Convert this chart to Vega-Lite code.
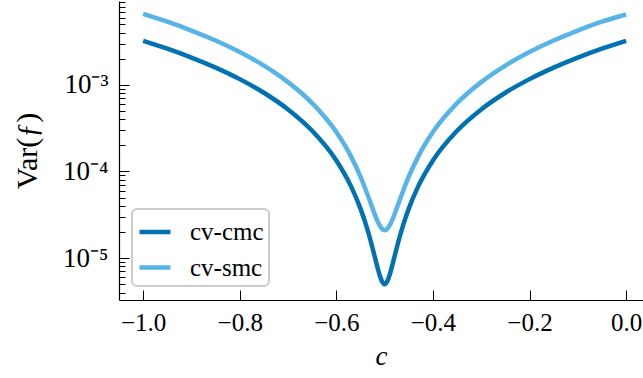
{
  "$schema": "https://vega.github.io/schema/vega-lite/v6.json",
  "width": 524,
  "height": 299,
  "autosize": {"type": "none"},
  "padding": {"left": 119, "top": 1, "right": 0, "bottom": 78},
  "background": "white",
  "config": {
    "view": {"stroke": null},
    "font": "Liberation Serif",
    "axis": {"labelFont": "Liberation Serif", "titleFont": "Liberation Serif", "labelColor": "#000", "titleColor": "#000", "tickColor": "#000", "domainColor": "#000", "grid": false, "titleFontWeight": "normal"},
    "legend": {"strokeColor": "#cccccc", "cornerRadius": 5, "strokeWidth": 2}
  },
  "datasets": {
    "curves": [
      {"c": -1.0, "v": 0.00323, "method": "cv-cmc"},
      {"c": -0.95, "v": 0.002617, "method": "cv-cmc"},
      {"c": -0.9, "v": 0.002069, "method": "cv-cmc"},
      {"c": -0.85, "v": 0.001585, "method": "cv-cmc"},
      {"c": -0.8, "v": 0.001166, "method": "cv-cmc"},
      {"c": -0.75, "v": 0.000811, "method": "cv-cmc"},
      {"c": -0.7, "v": 0.000521, "method": "cv-cmc"},
      {"c": -0.65, "v": 0.000295, "method": "cv-cmc"},
      {"c": -0.6, "v": 0.000134, "method": "cv-cmc"},
      {"c": -0.57, "v": 0.0000682, "method": "cv-cmc"},
      {"c": -0.55, "v": 0.00003725, "method": "cv-cmc"},
      {"c": -0.54, "v": 0.00002564, "method": "cv-cmc"},
      {"c": -0.53, "v": 0.00001661, "method": "cv-cmc"},
      {"c": -0.52, "v": 0.00001016, "method": "cv-cmc"},
      {"c": -0.515, "v": 0.0000079, "method": "cv-cmc"},
      {"c": -0.51, "v": 0.00000629, "method": "cv-cmc"},
      {"c": -0.505, "v": 0.00000532, "method": "cv-cmc"},
      {"c": -0.5, "v": 0.000005, "method": "cv-cmc"},
      {"c": -0.495, "v": 0.00000532, "method": "cv-cmc"},
      {"c": -0.49, "v": 0.00000629, "method": "cv-cmc"},
      {"c": -0.485, "v": 0.0000079, "method": "cv-cmc"},
      {"c": -0.48, "v": 0.00001016, "method": "cv-cmc"},
      {"c": -0.47, "v": 0.00001661, "method": "cv-cmc"},
      {"c": -0.46, "v": 0.00002564, "method": "cv-cmc"},
      {"c": -0.45, "v": 0.00003725, "method": "cv-cmc"},
      {"c": -0.43, "v": 0.0000682, "method": "cv-cmc"},
      {"c": -0.4, "v": 0.000134, "method": "cv-cmc"},
      {"c": -0.35, "v": 0.000295, "method": "cv-cmc"},
      {"c": -0.3, "v": 0.000521, "method": "cv-cmc"},
      {"c": -0.25, "v": 0.000811, "method": "cv-cmc"},
      {"c": -0.2, "v": 0.001166, "method": "cv-cmc"},
      {"c": -0.15, "v": 0.001585, "method": "cv-cmc"},
      {"c": -0.1, "v": 0.002069, "method": "cv-cmc"},
      {"c": -0.05, "v": 0.002617, "method": "cv-cmc"},
      {"c": 0.0, "v": 0.00323, "method": "cv-cmc"},
      {"c": -1.0, "v": 0.00662, "method": "cv-smc"},
      {"c": -0.95, "v": 0.005367, "method": "cv-smc"},
      {"c": -0.9, "v": 0.004245, "method": "cv-smc"},
      {"c": -0.85, "v": 0.003255, "method": "cv-smc"},
      {"c": -0.8, "v": 0.002397, "method": "cv-smc"},
      {"c": -0.75, "v": 0.001671, "method": "cv-smc"},
      {"c": -0.7, "v": 0.001077, "method": "cv-smc"},
      {"c": -0.65, "v": 0.000615, "method": "cv-smc"},
      {"c": -0.6, "v": 0.000285, "method": "cv-smc"},
      {"c": -0.57, "v": 0.0001504, "method": "cv-smc"},
      {"c": -0.55, "v": 0.000087, "method": "cv-smc"},
      {"c": -0.54, "v": 0.00006324, "method": "cv-smc"},
      {"c": -0.53, "v": 0.00004476, "method": "cv-smc"},
      {"c": -0.52, "v": 0.00003156, "method": "cv-smc"},
      {"c": -0.515, "v": 0.00002694, "method": "cv-smc"},
      {"c": -0.51, "v": 0.00002364, "method": "cv-smc"},
      {"c": -0.505, "v": 0.00002166, "method": "cv-smc"},
      {"c": -0.5, "v": 0.000021, "method": "cv-smc"},
      {"c": -0.495, "v": 0.00002166, "method": "cv-smc"},
      {"c": -0.49, "v": 0.00002364, "method": "cv-smc"},
      {"c": -0.485, "v": 0.00002694, "method": "cv-smc"},
      {"c": -0.48, "v": 0.00003156, "method": "cv-smc"},
      {"c": -0.47, "v": 0.00004476, "method": "cv-smc"},
      {"c": -0.46, "v": 0.00006324, "method": "cv-smc"},
      {"c": -0.45, "v": 0.000087, "method": "cv-smc"},
      {"c": -0.43, "v": 0.0001504, "method": "cv-smc"},
      {"c": -0.4, "v": 0.000285, "method": "cv-smc"},
      {"c": -0.35, "v": 0.000615, "method": "cv-smc"},
      {"c": -0.3, "v": 0.001077, "method": "cv-smc"},
      {"c": -0.25, "v": 0.001671, "method": "cv-smc"},
      {"c": -0.2, "v": 0.002397, "method": "cv-smc"},
      {"c": -0.15, "v": 0.003255, "method": "cv-smc"},
      {"c": -0.1, "v": 0.004245, "method": "cv-smc"},
      {"c": -0.05, "v": 0.005367, "method": "cv-smc"},
      {"c": 0.0, "v": 0.0065, "method": "cv-smc"}
    ]
  },
  "layer": [
    {
      "data": {"name": "curves"},
      "mark": {"type": "line", "strokeWidth": 4.5, "interpolate": "monotone", "clip": true},
      "encoding": {
        "x": {
          "field": "c", "type": "quantitative",
          "scale": {"domain": [-1.05, 0.035], "nice": false, "zero": false},
          "axis": {
            "orient": "bottom",
            "values": [-1, -0.8, -0.6, -0.4, -0.2, 0],
            "labelExpr": "datum.value < 0 ? '−' + format(abs(datum.value), '.1f') : format(datum.value, '.1f')",
            "labelFontSize": 25,
            "labelFlush": false,
            "labelOverlap": false,
            "tickSize": -10,
            "tickWidth": 1,
            "labelPadding": 20,
            "domain": true,
            "domainWidth": 1.2,
            "title": "c",
            "titleFontSize": 27,
            "titleFontStyle": "italic",
            "titlePadding": 8
          }
        },
        "y": {
          "field": "v", "type": "quantitative",
          "scale": {"type": "log", "domain": [0.00000328, 0.00931], "nice": false},
          "axis": {
            "orient": "left",
            "values": [0.000004, 0.000005, 0.000006, 0.000007, 0.000008, 0.000009, 0.00001, 0.00002, 0.00003, 0.00004, 0.00005, 0.00006, 0.00007, 0.00008, 0.00009, 0.0001, 0.0002, 0.0003, 0.0004, 0.0005, 0.0006, 0.0007, 0.0008, 0.0009, 0.001, 0.002, 0.003, 0.004, 0.005, 0.006, 0.007, 0.008, 0.009],
            "labelExpr": "datum.value === 0.001 ? '10⁻³' : datum.value === 0.0001 ? '10⁻⁴' : datum.value === 0.00001 ? '10⁻⁵' : ''",
            "labelFontSize": 27,
            "labelOverlap": false,
            "labelFlush": false,
            "tickSize": {"condition": {"test": "datum.value === 0.001 || datum.value === 0.0001 || datum.value === 0.00001", "value": -10}, "value": -6},
            "tickWidth": 1,
            "labelPadding": 21,
            "domain": true,
            "domainWidth": 1.2,
            "title": "Var(ƒ)",
            "titleFontSize": 30,
            "titlePadding": 20
          }
        },
        "color": {
          "field": "method", "type": "nominal",
          "scale": {"domain": ["cv-cmc", "cv-smc"], "range": ["#0072B2", "#56B4E9"]},
          "legend": {
            "orient": "none",
            "legendX": 13,
            "legendY": 208,
            "title": null,
            "symbolType": "stroke",
            "symbolSize": 961,
            "symbolStrokeWidth": 4.5,
            "labelFont": "Liberation Serif",
            "labelFontSize": 25,
            "labelColor": "#000",
            "labelOffset": 17,
            "rowPadding": 4.5,
            "padding": 5,
            "fillColor": "rgba(255,255,255,0.8)"
          }
        }
      }
    },
    {
      "mark": {"type": "rule", "color": "#000", "strokeWidth": 1.2},
      "encoding": {"y": {"datum": 0.00931, "type": "quantitative"}}
    }
  ]
}
